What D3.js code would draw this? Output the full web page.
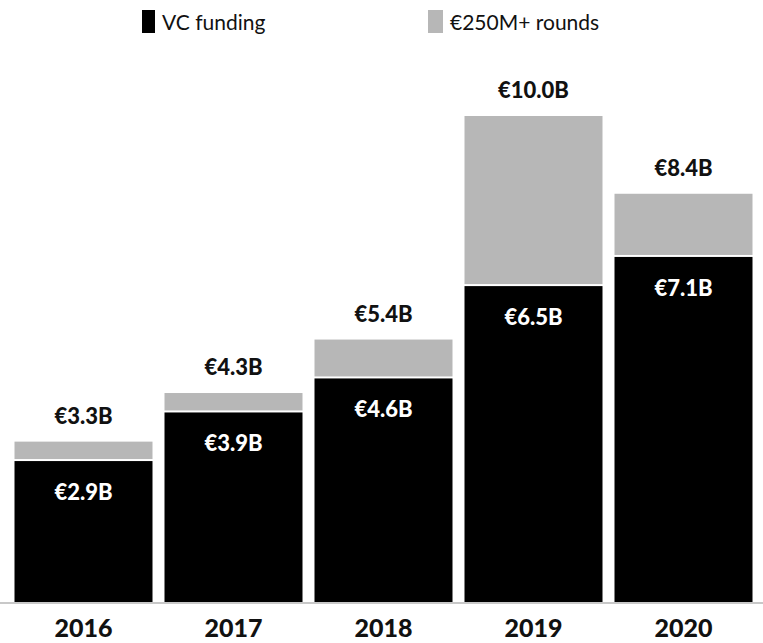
<!DOCTYPE html>
<html>
<head>
<meta charset="utf-8">
<script src="https://cdn.jsdelivr.net/npm/d3@7"></script>
<style>
  body { margin: 0; background: #fff; }
  svg text { font-family: Lato, "Noto Sans", sans-serif; }
</style>
</head>
<body>
<div id="chart"></div>
<script>
// values in billions of euro
const YEARS = ["2016", "2017", "2018", "2019", "2020"];
const VC_FUNDING = [2.9, 3.9, 4.6, 6.5, 7.1];
const TOTAL_WITH_MEGA = [3.3, 4.3, 5.4, 10.0, 8.4];
const LEGEND_LABELS = ["VC funding", "€250M+ rounds"];

const WIDTH = 763;
const HEIGHT = 643;
const BLACK = "#000";
const GREY = "#b7b7b7";
const BASE_Y = 602;

const fmt = v => "€" + v.toFixed(1) + "B";

const svg = d3.select("#chart").append("svg")
  .attr("width", WIDTH)
  .attr("height", HEIGHT);

const x = d3.scaleBand()
  .domain(YEARS)
  .range([4, WIDTH])
  .paddingInner(0.08)
  .paddingOuter(0.07);

const y = d3.scaleLinear()
  .domain([0, 10])
  .range([BASE_Y, 116]);

const rows = YEARS.map((yr, i) => ({ year: yr, vc: VC_FUNDING[i], total: TOTAL_WITH_MEGA[i] }));

// grey top part (the €250M+ rounds), 2px white gap above the black
svg.selectAll("rect.mega")
  .data(rows)
  .enter()
  .append("rect")
  .attr("class", "mega")
  .attr("x", d => x(d.year))
  .attr("width", x.bandwidth())
  .attr("y", d => y(d.total))
  .attr("height", d => Math.max(0, y(d.vc) - y(d.total) - 2))
  .attr("fill", GREY);

svg.selectAll("rect.vc")
  .data(rows)
  .enter()
  .append("rect")
  .attr("class", "vc")
  .attr("x", d => x(d.year))
  .attr("width", x.bandwidth())
  .attr("y", d => y(d.vc))
  .attr("height", d => y(0) - y(d.vc))
  .attr("fill", BLACK);

// total label over each bar
svg.selectAll("text.total")
  .data(rows)
  .enter()
  .append("text")
  .attr("class", "total")
  .attr("x", d => x(d.year) + x.bandwidth() / 2)
  .attr("y", d => y(d.total) - 18)
  .attr("text-anchor", "middle")
  .attr("font-size", 22)
  .attr("font-weight", 900)
  .attr("fill", "#111")
  .text(d => fmt(d.total));

// vc label inside the black part
svg.selectAll("text.vc")
  .data(rows)
  .enter()
  .append("text")
  .attr("class", "vc")
  .attr("x", d => x(d.year) + x.bandwidth() / 2)
  .attr("y", d => y(d.vc) + 39)
  .attr("text-anchor", "middle")
  .attr("font-size", 22)
  .attr("font-weight", 900)
  .attr("fill", "#fff")
  .text(d => fmt(d.vc));

// x axis: just the light baseline and the years
const axis = svg.append("g")
  .attr("transform", `translate(0,${BASE_Y + 1})`)
  .call(d3.axisBottom(x).tickSize(0).tickSizeOuter(0));

axis.select(".domain")
  .attr("stroke", "#c8c8c8")
  .attr("stroke-width", 2)
  .attr("d", `M0,0H${WIDTH}`);

axis.selectAll("text")
  .attr("y", 34)
  .attr("dy", 0)
  .attr("font-family", "Lato, 'Noto Sans', sans-serif")
  .attr("font-size", 25)
  .attr("font-weight", 900)
  .attr("fill", "#111");

// legend
const legend = svg.append("g");
const legendItems = [
  { label: LEGEND_LABELS[0], color: BLACK, x: 142, w: 13 },
  { label: LEGEND_LABELS[1], color: GREY, x: 428, w: 15 }
];
legendItems.forEach(it => {
  legend.append("rect")
    .attr("x", it.x)
    .attr("y", 10)
    .attr("width", it.w)
    .attr("height", 23)
    .attr("fill", it.color);
  legend.append("text")
    .attr("x", it.x + it.w + 7)
    .attr("y", 30)
    .attr("font-size", 21)
    .attr("fill", "#111")
    .text(it.label);
});
</script>
</body>
</html>
